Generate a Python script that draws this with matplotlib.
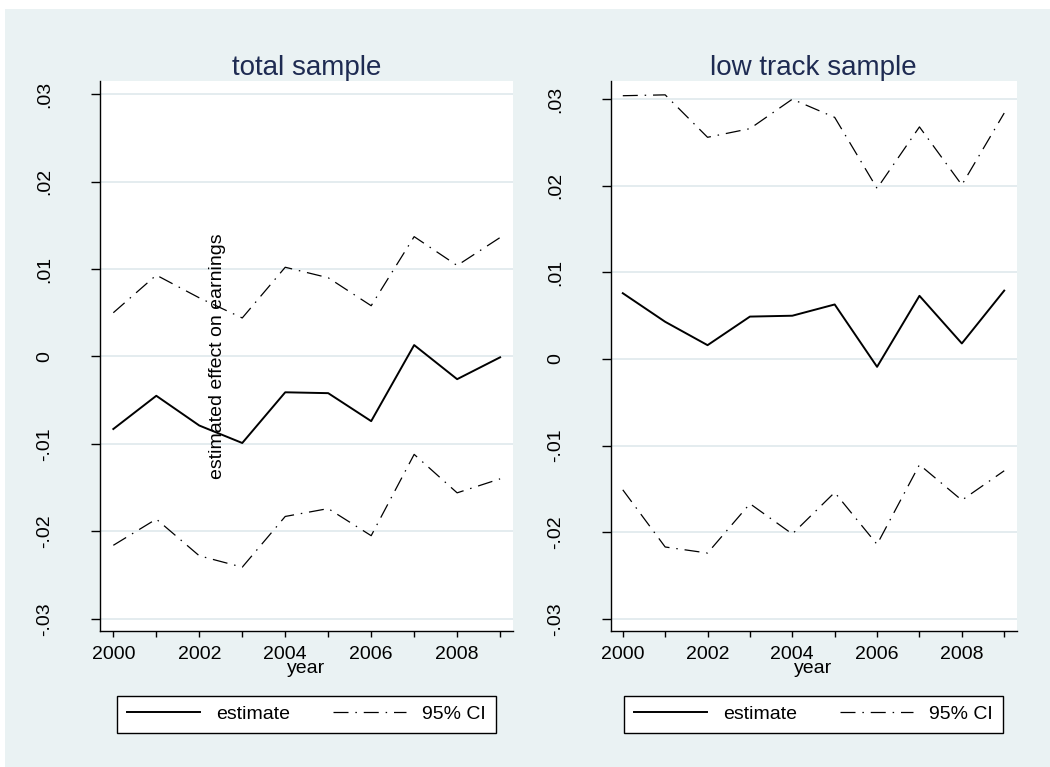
import matplotlib.pyplot as plt
from matplotlib.patches import Rectangle

# --- DATA ---
years = [2000, 2001, 2002, 2003, 2004, 2005, 2006, 2007, 2008, 2009]

total_est = [-0.0083, -0.0045, -0.0079, -0.0099, -0.0041, -0.0042, -0.0074, 0.0013, -0.0026, -0.0001]
total_hi = [0.0050, 0.0093, 0.0067, 0.0044, 0.0102, 0.0090, 0.0058, 0.0137, 0.0104, 0.0136]
total_lo = [-0.0216, -0.0186, -0.0228, -0.0241, -0.0183, -0.0174, -0.0205, -0.0112, -0.0156, -0.0140]

low_est = [0.0076, 0.0043, 0.0016, 0.0049, 0.0050, 0.0063, -0.0009, 0.0073, 0.0018, 0.0079]
low_hi = [0.0304, 0.0305, 0.0256, 0.0266, 0.0300, 0.0279, 0.0197, 0.0268, 0.0201, 0.0284]
low_lo = [-0.0151, -0.0217, -0.0224, -0.0167, -0.0202, -0.0154, -0.0214, -0.0122, -0.0163, -0.0129]

y_ticks = [-0.03, -0.02, -0.01, 0.0, 0.01, 0.02, 0.03]
y_labels = ["-.03", "-.02", "-.01", "0", ".01", ".02", ".03"]

# --- STYLE ---
plt.rcParams['font.family'] = ['Liberation Sans', 'DejaVu Sans']
BG = "#eaf2f3"
GRID = "#e2ebee"
TITLE_COLOR = "#1e2b52"
CI_STYLE = (0, (12, 5.5, 1.2, 5.5))

W, H = 1050, 767


def draw_panel(fig, rect, title, est, hi, lo, ylim, xlim, ytitle=None):
    ax = fig.add_axes(rect)
    ax.set_facecolor("white")

    ax.plot(years, est, color="black", lw=1.4, label="estimate")
    ax.plot(years, hi, color="black", lw=0.9, linestyle=CI_STYLE, label="95% CI")
    ax.plot(years, lo, color="black", lw=0.9, linestyle=CI_STYLE)

    ax.set_xlim(*xlim)
    ax.set_ylim(*ylim)

    # horizontal grid at every y tick
    for y in y_ticks:
        ax.axhline(y, color=GRID, lw=1.3, zorder=0)

    ax.set_yticks(y_ticks)
    ax.set_yticklabels(y_labels, rotation=90, va="center", fontsize=14)
    ax.set_xticks(years)
    ax.set_xticklabels([str(y) if y % 2 == 0 else "" for y in years], fontsize=14)
    ax.tick_params(axis="y", length=6.5, width=1.0, pad=27)
    ax.tick_params(axis="x", length=4.5, width=1.0, pad=6)

    for side in ["top", "right"]:
        ax.spines[side].set_visible(False)
    for side in ["left", "bottom"]:
        ax.spines[side].set_linewidth(1.0)

    ax.set_xlabel("year", fontsize=14, labelpad=-2)
    ax.set_title(title, fontsize=20, color=TITLE_COLOR, pad=3)

    if ytitle:
        ax.text(0.2857, 0.5, ytitle, transform=ax.transAxes, rotation=90,
                ha="center", va="center", fontsize=14)

    leg = ax.legend(loc="upper center", bbox_to_anchor=(0.5, -0.118), ncol=2,
                    fontsize=14, frameon=True, fancybox=False, edgecolor="black",
                    facecolor="white", framealpha=1, handlelength=3.75,
                    handletextpad=0.85, columnspacing=2.2, borderpad=0.5,
                    borderaxespad=0)
    leg.get_frame().set_linewidth(1.0)
    return ax


fig = plt.figure(figsize=(W / 100, H / 100), dpi=100)
fig.patch.set_facecolor("white")
fig.patches.append(Rectangle((5 / W, 0), 1, (H - 9) / H, transform=fig.transFigure,
                             facecolor=BG, edgecolor="none", zorder=-10))

bottom = (H - 631) / H
height = 550 / H

draw_panel(fig, [100 / W, bottom, 413 / W, height], "total sample",
           total_est, total_hi, total_lo, (-0.0314, 0.0315), (1999.69, 2009.3),
           ytitle="estimated effect on earnings")
draw_panel(fig, [610.5 / W, bottom, 406 / W, height], "low track sample",
           low_est, low_hi, low_lo, (-0.0314, 0.0321), (1999.71, 2009.29))

fig.savefig("out.png", dpi=100, facecolor=fig.get_facecolor())
